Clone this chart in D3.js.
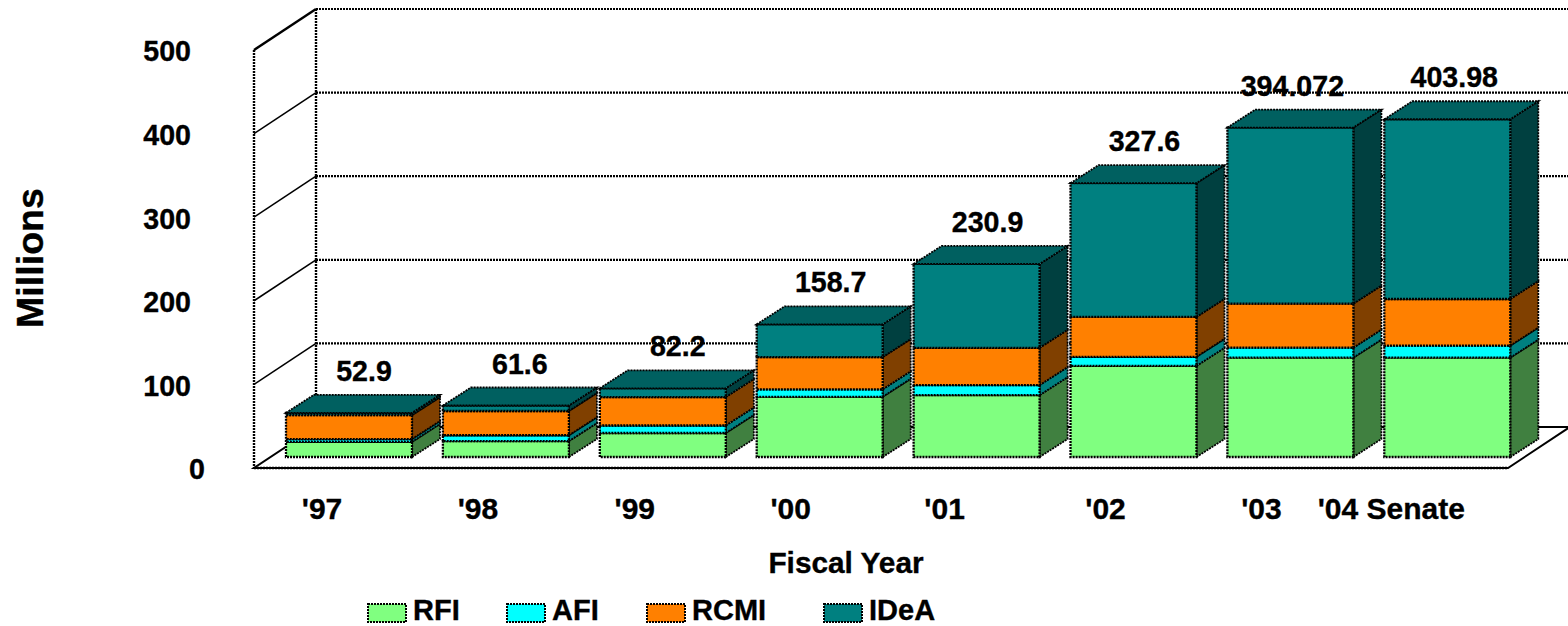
<!DOCTYPE html>
<html>
<head>
<meta charset="utf-8">
<title>Funding by fiscal year</title>
<script src="https://cdn.jsdelivr.net/npm/d3@7"></script>
<style>
  html, body { margin: 0; background: #fff; }
  svg { display: block; }
  text { font-family: "Liberation Sans", Arial, sans-serif; font-weight: bold; font-size: 28.6px; fill: #000; stroke: #000; stroke-width: 0.35px; }
</style>
</head>
<body>
<svg id="chart" width="1568" height="626"></svg>
<script>
const years = ["'97", "'98", "'99", "'00", "'01", "'02", "'03", "'04 Senate"]
const rfi = [18, 19, 28.7, 72, 74, 109, 118.8, 118.8]
const afi = [3.5, 7, 9, 9, 12, 10.8, 12, 14.4]
const rcmi = [28.5, 29, 34, 38.5, 44.6, 47.8, 52.6, 55.8]
const idea = [2.9, 6.6, 10.5, 39.2, 100.3, 160, 210.672, 214.98]
const totals = ['52.9', '61.6', '82.2', '158.7', '230.9', '327.6', '394.072', '403.98']
const yTicks = [0, 100, 200, 300, 400, 500]

const seriesNames = ['RFI', 'AFI', 'RCMI', 'IDeA']
const seriesValues = [rfi, afi, rcmi, idea]
const frontColors = ['#80ff80', '#00ffff', '#ff8000', '#008080']
const sideColors = ['#408040', '#008080', '#804000', '#004040']
const topColor = '#006060'

// hand placement of the labels, the source chart is not regular here
const totalNudge = [15, 14, 15, 11, 11, 11, 2, 7]
const yearNudge = [-27, -28, -28, -29, -32, -28, -29, -56]
const legendSwatchX = [368, 507, 647, 824]

const wallDepth = { x: 62, y: -41 }
const barDepth = { x: 28, y: -18 }
const dots = '2 1'

const svg = d3.select('#chart')

const x = d3.scaleBand()
  .domain(years)
  .range([270.55, 1525.75])
  .paddingInner(0.197)
  .paddingOuter(0.0985)
const yWall = d3.scaleLinear().domain([0, 500]).range([468, 50])
const yBar = d3.scaleLinear().domain([0, 500]).range([457, 39])

const left = 254
const right = 1508
const pts = (arr) => arr.map(p => p.join(',')).join(' ')

// walls and floor
const walls = svg.append('g').attr('fill', 'none').attr('stroke', '#000')

walls.append('polygon')
  .attr('points', pts([
    [left, yWall(0)], [right, yWall(0)],
    [right + wallDepth.x, yWall(0) + wallDepth.y], [left + wallDepth.x, yWall(0) + wallDepth.y],
  ]))
  .attr('stroke-width', 2)

walls.selectAll('.wallLine')
  .data(yTicks.filter(d => d > 0))
  .join('line')
  .attr('x1', left)
  .attr('y1', d => yWall(d))
  .attr('x2', left + wallDepth.x)
  .attr('y2', d => yWall(d) + wallDepth.y)
  .attr('stroke-width', d => d === 500 ? 2.4 : 1.6)

walls.selectAll('.grid')
  .data(yTicks.filter(d => d > 0))
  .join('line')
  .attr('x1', left + wallDepth.x)
  .attr('y1', d => yWall(d) + wallDepth.y)
  .attr('x2', right + wallDepth.x)
  .attr('y2', d => yWall(d) + wallDepth.y)
  .attr('stroke-width', 2.2)
  .attr('stroke-dasharray', dots)

walls.append('line')
  .attr('x1', left).attr('y1', yWall(500)).attr('x2', left).attr('y2', yWall(0))
  .attr('stroke-width', 2.4).attr('stroke-dasharray', dots)
walls.append('line')
  .attr('x1', left + wallDepth.x).attr('y1', yWall(500) + wallDepth.y)
  .attr('x2', left + wallDepth.x).attr('y2', yWall(0) + wallDepth.y)
  .attr('stroke-width', 2.4).attr('stroke-dasharray', dots)
walls.append('line')
  .attr('x1', left).attr('y1', yWall(0)).attr('x2', right).attr('y2', yWall(0))
  .attr('stroke-width', 2.4).attr('stroke-dasharray', dots)

// stacked boxes, one series on top of the other
const stacked = d3.stack()
  .keys(d3.range(seriesNames.length))
  .value((row, k) => row[k])(years.map((_, i) => seriesValues.map(s => s[i])))

const bars = svg.append('g')

years.forEach((year, i) => {
  const bx = x(year)
  const w = x.bandwidth()
  const g = bars.append('g')

  stacked.forEach((layer, k) => {
    const y0 = yBar(layer[i][0])
    const y1 = yBar(layer[i][1])

    g.append('polygon')
      .attr('points', pts([
        [bx + w, y0], [bx + w + barDepth.x, y0 + barDepth.y],
        [bx + w + barDepth.x, y1 + barDepth.y], [bx + w, y1],
      ]))
      .attr('fill', sideColors[k])
      .attr('stroke', '#000')
      .attr('stroke-width', 1.8)
      .attr('stroke-dasharray', dots)

    g.append('rect')
      .attr('x', bx)
      .attr('y', y1)
      .attr('width', w)
      .attr('height', y0 - y1)
      .attr('fill', frontColors[k])
      .attr('stroke', '#000')
      .attr('stroke-width', 2.3)
      .attr('stroke-dasharray', dots)
  })

  const yTop = yBar(stacked[stacked.length - 1][i][1])
  g.append('polygon')
    .attr('points', pts([
      [bx, yTop], [bx + barDepth.x, yTop + barDepth.y],
      [bx + w + barDepth.x, yTop + barDepth.y], [bx + w, yTop],
    ]))
    .attr('fill', topColor)
    .attr('stroke', '#000')
    .attr('stroke-width', 1.8)
    .attr('stroke-dasharray', dots)

  svg.append('text')
    .attr('x', bx + w / 2 + totalNudge[i])
    .attr('y', yTop + barDepth.y - 14)
    .attr('text-anchor', 'middle')
    .text(totals[i])
})

// axes, text only: the lines are the walls above
const yAxis = svg.append('g')
  .attr('transform', `translate(${left},0)`)
  .call(d3.axisLeft(yWall).tickValues(yTicks).tickSize(0).tickFormat(d3.format('d')))
yAxis.select('.domain').remove()
yAxis.selectAll('text')
  .attr('x', d => d === 0 ? -49 : -63)
  .attr('dy', '0.38em')

const xAxis = svg.append('g')
  .attr('transform', `translate(0,${yWall(0)})`)
  .call(d3.axisBottom(x).tickSize(0))
xAxis.select('.domain').remove()
xAxis.selectAll('text')
  .attr('x', (d, i) => yearNudge[i])
  .attr('y', 51)
  .attr('dy', 0)
  .style('font-size', '30px')

svg.append('text')
  .attr('x', 846)
  .attr('y', 573)
  .attr('text-anchor', 'middle')
  .style('font-size', '29.8px')
  .text('Fiscal Year')

svg.append('text')
  .attr('transform', 'translate(43,258) rotate(-90)')
  .attr('text-anchor', 'middle')
  .style('font-size', '37.6px')
  .text('Millions')

// legend
const legend = svg.append('g')
seriesNames.forEach((name, k) => {
  legend.append('rect')
    .attr('x', legendSwatchX[k])
    .attr('y', 604)
    .attr('width', 38)
    .attr('height', 18)
    .attr('fill', frontColors[k])
    .attr('stroke', '#000')
    .attr('stroke-width', 2)
    .attr('stroke-dasharray', dots)
  legend.append('text')
    .attr('x', legendSwatchX[k] + 45)
    .attr('y', 620)
    .style('font-size', '29px')
    .text(name)
})
</script>
</body>
</html>
